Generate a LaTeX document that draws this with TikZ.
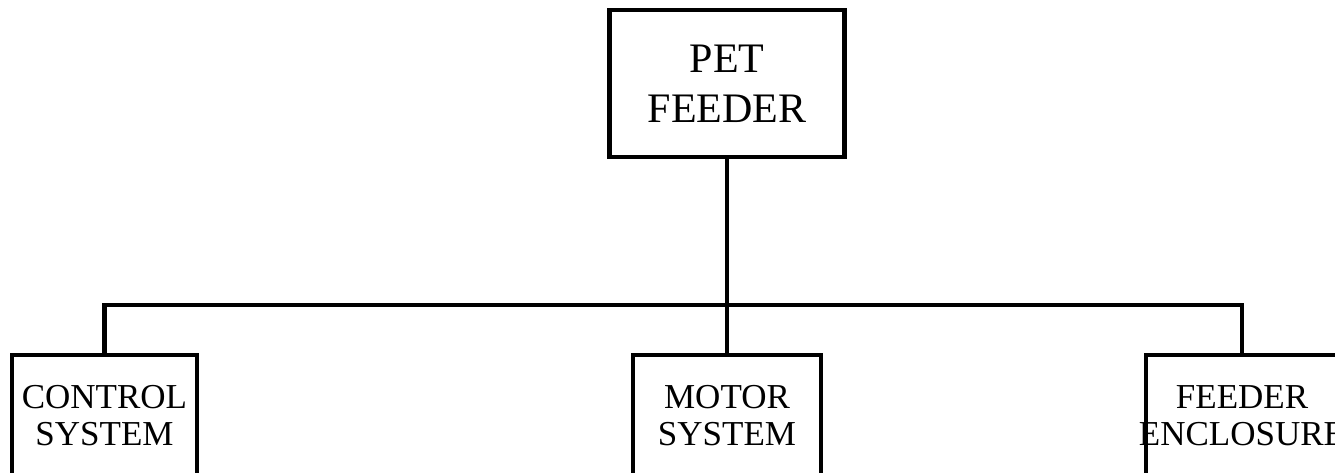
\documentclass[tikz,border=0pt]{standalone}
\usepackage{fontspec}
\setmainfont{Liberation Serif}
\begin{document}
\begin{tikzpicture}[x=1pt,y=-1pt,
  line width=4.5pt,
  topbox/.style={draw=black, fill=white, minimum width=235pt, minimum height=147pt, inner sep=0pt, align=center, font=\fontsize{42}{50}\selectfont},
  subbox/.style={draw=black, fill=white, minimum height=121pt, inner sep=0pt, align=center, font=\fontsize{35}{37}\selectfont},
  link/.style={draw=black, line width=4.5pt}]
\path[fill=white] (0,0) rectangle (1335,473);
\useasboundingbox (0,0) rectangle (1335,473);
\node[topbox] (top) at (727,83.5) {PET\\FEEDER};
\node[subbox, minimum width=185pt] (ctrl) at (104.5,415.5) {CONTROL\\SYSTEM};
\node[subbox, minimum width=188pt] (motor) at (727,415.5) {MOTOR\\SYSTEM};
\node[subbox, minimum width=192pt] (encl) at (1242,415.5) {FEEDER\\\makebox[0pt]{ENCLOSURE}};
\coordinate (j) at (727,305);
\draw[link] (top.south) -- (motor.north);
\draw[link] (ctrl.north) |- (j) -| (encl.north);
\end{tikzpicture}
\end{document}
